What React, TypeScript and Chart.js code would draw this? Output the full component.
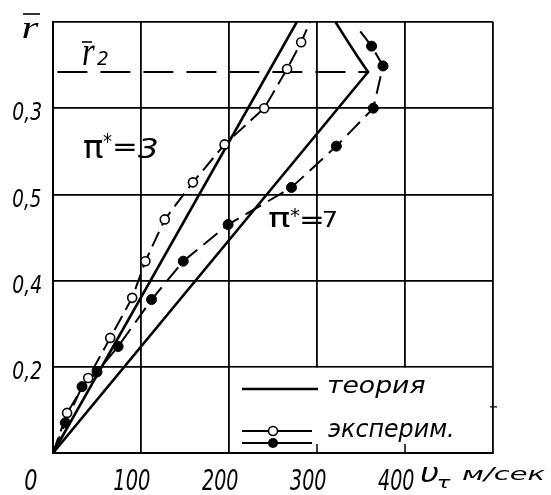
import React, { useEffect, useRef } from "react";
import { Chart, registerables } from "chart.js";
Chart.register(...registerables);

// ---- data ----
const xTickLabels = ["0", "100", "200", "300", "400", ""];
const yTickLabels = ["", "0,2", "0,4", "0,5", "0,3", ""];

const theory3V = [0, 277];
const theory3R = [0, 1.0];
const theory7V = [0, 358, 346, 334, 321];
const theory7R = [0, 0.884, 0.92, 0.958, 1.0];

const exp3V = [16, 40, 65, 90, 105, 127, 159, 195, 240, 266, 282];
const exp3R = [0.093, 0.174, 0.267, 0.36, 0.445, 0.542, 0.628, 0.716, 0.8, 0.891, 0.953];
const exp3Start = [0, 0];
const exp3End = [292, 1.0];

const exp7V = [14, 33, 50, 74, 112, 148, 199, 271, 322, 364, 375, 362];
const exp7R = [0.07, 0.154, 0.188, 0.247, 0.356, 0.445, 0.53, 0.616, 0.712, 0.8, 0.898, 0.944];
const exp7Start = [0, 0];
const exp7End = [347, 0.984];

const r2Value = 0.884;
const r2V = [5, 358];

const legendV = [200, 500];
const legendR = [0, 0.2];

const SANS = "'DejaVu Sans', 'Liberation Sans', sans-serif";

const zip = (v: number[], r: number[]) => v.map((x, i) => ({ x, y: r[i] }));

function drawBox(ctx: CanvasRenderingContext2D, text: string, font: string, l: number, t: number, r: number, b: number) {
  ctx.save();
  ctx.font = font;
  ctx.textAlign = "left";
  ctx.textBaseline = "alphabetic";
  const m = ctx.measureText(text);
  const gw = m.actualBoundingBoxLeft + m.actualBoundingBoxRight;
  const gh = m.actualBoundingBoxAscent + m.actualBoundingBoxDescent;
  ctx.translate(l, t);
  ctx.scale((r - l) / gw, (b - t) / gh);
  ctx.fillStyle = "#000";
  ctx.fillText(text, m.actualBoundingBoxLeft, m.actualBoundingBoxAscent);
  ctx.restore();
}

function line(ctx: CanvasRenderingContext2D, x1: number, y1: number, x2: number, y2: number, w: number) {
  ctx.beginPath();
  ctx.lineWidth = w;
  ctx.moveTo(x1, y1);
  ctx.lineTo(x2, y2);
  ctx.stroke();
}

const it = (s: number) => `italic ${s}px ${SANS}`;
const up = (s: number) => `${s}px ${SANS}`;
const serifIt = (s: number) => `italic ${s}px 'Liberation Serif', serif`;

const overlay = {
  id: "overlay",
  beforeDatasetsDraw(chart: any) {
    const { ctx, scales } = chart;
    const x = scales.x, y = scales.y;
    const x0 = x.getPixelForValue(legendV[0]), x1 = x.getPixelForValue(legendV[1]);
    const y0 = y.getPixelForValue(legendR[1]), y1 = y.getPixelForValue(legendR[0]);
    ctx.save();
    ctx.fillStyle = "#fff";
    ctx.fillRect(x0 + 1, y0 + 1, x1 - x0 - 2, y1 - y0 - 2);
    ctx.strokeStyle = "#000";
    for (const v of [300, 400]) {
      const px = x.getPixelForValue(v);
      line(ctx, px, y1, px, y1 - 9, 1.5);
    }
    const ty = y.getPixelForValue(0.107);
    line(ctx, x1 - 3, ty, x1 + 4, ty, 1.2);
    ctx.restore();
  },
  afterDraw(chart: any) {
    const { ctx, scales } = chart;
    ctx.save();
    ctx.strokeStyle = "#000";
    ctx.fillStyle = "#000";
    // tick labels (from the scales' ticks)
    const xs = scales.x, ys = scales.y;
    xs.ticks.forEach((t: any, i: number) => {
      const lbl = xTickLabels[i];
      if (!lbl) return;
      const px = xs.getPixelForValue(t.value);
      const c = px + (t.value === 0 ? -22 : -9);
      const w = 12 * lbl.length;
      drawBox(ctx, lbl, it(26), c - w / 2, 468, c + w / 2, 490);
    });
    ys.ticks.forEach((t: any, i: number) => {
      const lbl = yTickLabels[i];
      if (!lbl) return;
      const py = ys.getPixelForValue(t.value) + 4;
      drawBox(ctx, lbl, it(26), 13, py - 11, 41, py + 11);
    });
    // r-bar axis label
    drawBox(ctx, "r", serifIt(30), 23, 23, 39, 38);
    line(ctx, 23, 14, 40, 14, 1.6);
    // r2 label
    drawBox(ctx, "r", serifIt(30), 83, 46, 95, 65);
    line(ctx, 82, 42, 92, 42, 1.6);
    drawBox(ctx, "2", it(20), 97, 52, 108, 65);
    // pi*=3
    drawBox(ctx, "π", up(22), 83, 141, 103, 158);
    drawBox(ctx, "*", up(16), 103, 132, 112, 143);
    drawBox(ctx, "=", up(20), 115, 144, 135, 152);
    drawBox(ctx, "3", it(24), 138, 138, 157, 158);
    // pi*=7
    drawBox(ctx, "π", up(22), 268, 213, 290, 227);
    drawBox(ctx, "*", up(16), 290, 207, 300, 217);
    drawBox(ctx, "=", up(20), 302, 217, 322, 225);
    drawBox(ctx, "7", up(22), 323, 212, 337, 227);
    // axis title
    drawBox(ctx, "υ", it(22), 420, 468, 438, 482);
    drawBox(ctx, "τ", it(16), 438, 479, 451, 488);
    drawBox(ctx, "м/сек", it(22), 462, 467, 546, 482);
    // legend
    ctx.lineCap = "butt";
    line(ctx, 242, 389, 318, 389, 2.5);
    drawBox(ctx, "теория", it(24), 328, 380, 425, 398);
    line(ctx, 242, 431, 312, 431, 2);
    line(ctx, 242, 443, 312, 443, 2);
    ctx.beginPath();
    ctx.arc(273, 431, 4.5, 0, Math.PI * 2);
    ctx.fillStyle = "#fff";
    ctx.fill();
    ctx.lineWidth = 1.6;
    ctx.stroke();
    ctx.beginPath();
    ctx.arc(273, 443, 5, 0, Math.PI * 2);
    ctx.fillStyle = "#000";
    ctx.fill();
    drawBox(ctx, "эксперим.", it(24), 328, 422, 452, 442);
    ctx.restore();
  },
};

export default function App() {
  const ref = useRef<HTMLCanvasElement>(null);
  useEffect(() => {
    const canvas = ref.current!;
    const exp3Line = [{ x: exp3Start[0], y: exp3Start[1] }, ...zip(exp3V, exp3R), { x: exp3End[0], y: exp3End[1] }];
    const exp7Line = [{ x: exp7Start[0], y: exp7Start[1] }, ...zip(exp7V, exp7R), { x: exp7End[0], y: exp7End[1] }];
    const chart = new Chart(canvas, {
      type: "line",
      data: {
        datasets: [
          {
            data: zip(exp3V, exp3R),
            showLine: false,
            pointRadius: 4.5,
            pointBackgroundColor: "#fff",
            pointBorderColor: "#000",
            pointBorderWidth: 1.6,
          },
          {
            data: zip(exp7V, exp7R),
            showLine: false,
            pointRadius: 5,
            pointBackgroundColor: "#000",
            pointBorderColor: "#000",
            pointBorderWidth: 1,
          },
          { data: exp3Line, borderColor: "#000", borderWidth: 2, borderDash: [16, 7], pointRadius: 0 },
          { data: exp7Line, borderColor: "#000", borderWidth: 2, borderDash: [18, 8], pointRadius: 0 },
          { data: zip(theory3V, theory3R), borderColor: "#000", borderWidth: 2.6, pointRadius: 0 },
          { data: zip(theory7V, theory7R), borderColor: "#000", borderWidth: 2.6, pointRadius: 0 },
          {
            data: r2V.map((v) => ({ x: v, y: r2Value })),
            borderColor: "#000",
            borderWidth: 2,
            borderDash: [30, 13],
            pointRadius: 0,
          },
        ] as any,
      },
      options: {
        animation: false,
        responsive: false,
        maintainAspectRatio: false,
        layout: { padding: { top: 22, right: 58, left: 0, bottom: 0 } },
        plugins: { legend: { display: false }, tooltip: { enabled: false }, title: { display: false } },
        elements: { line: { tension: 0, fill: false } },
        scales: {
          x: {
            type: "linear",
            min: 0,
            max: 500,
            grid: { color: "#000", lineWidth: 1.8, drawTicks: false },
            border: { color: "#000", width: 2 },
            ticks: { stepSize: 100, autoSkip: false, display: false },
            afterFit: (s: any) => {
              s.height = 42;
            },
          },
          y: {
            type: "linear",
            min: 0,
            max: 1,
            grid: { color: "#000", lineWidth: 1.8, drawTicks: false },
            border: { color: "#000", width: 2 },
            ticks: { stepSize: 0.2, autoSkip: false, display: false },
            afterFit: (s: any) => {
              s.width = 53;
            },
          },
        },
      } as any,
      plugins: [overlay],
    });
    return () => chart.destroy();
  }, []);
  return (
    <div style={{ position: "absolute", left: 0, top: 0, width: 551, height: 495, background: "#fff" }}>
      <canvas ref={ref} width={551} height={495} style={{ display: "block", width: 551, height: 495 }} />
    </div>
  );
}
